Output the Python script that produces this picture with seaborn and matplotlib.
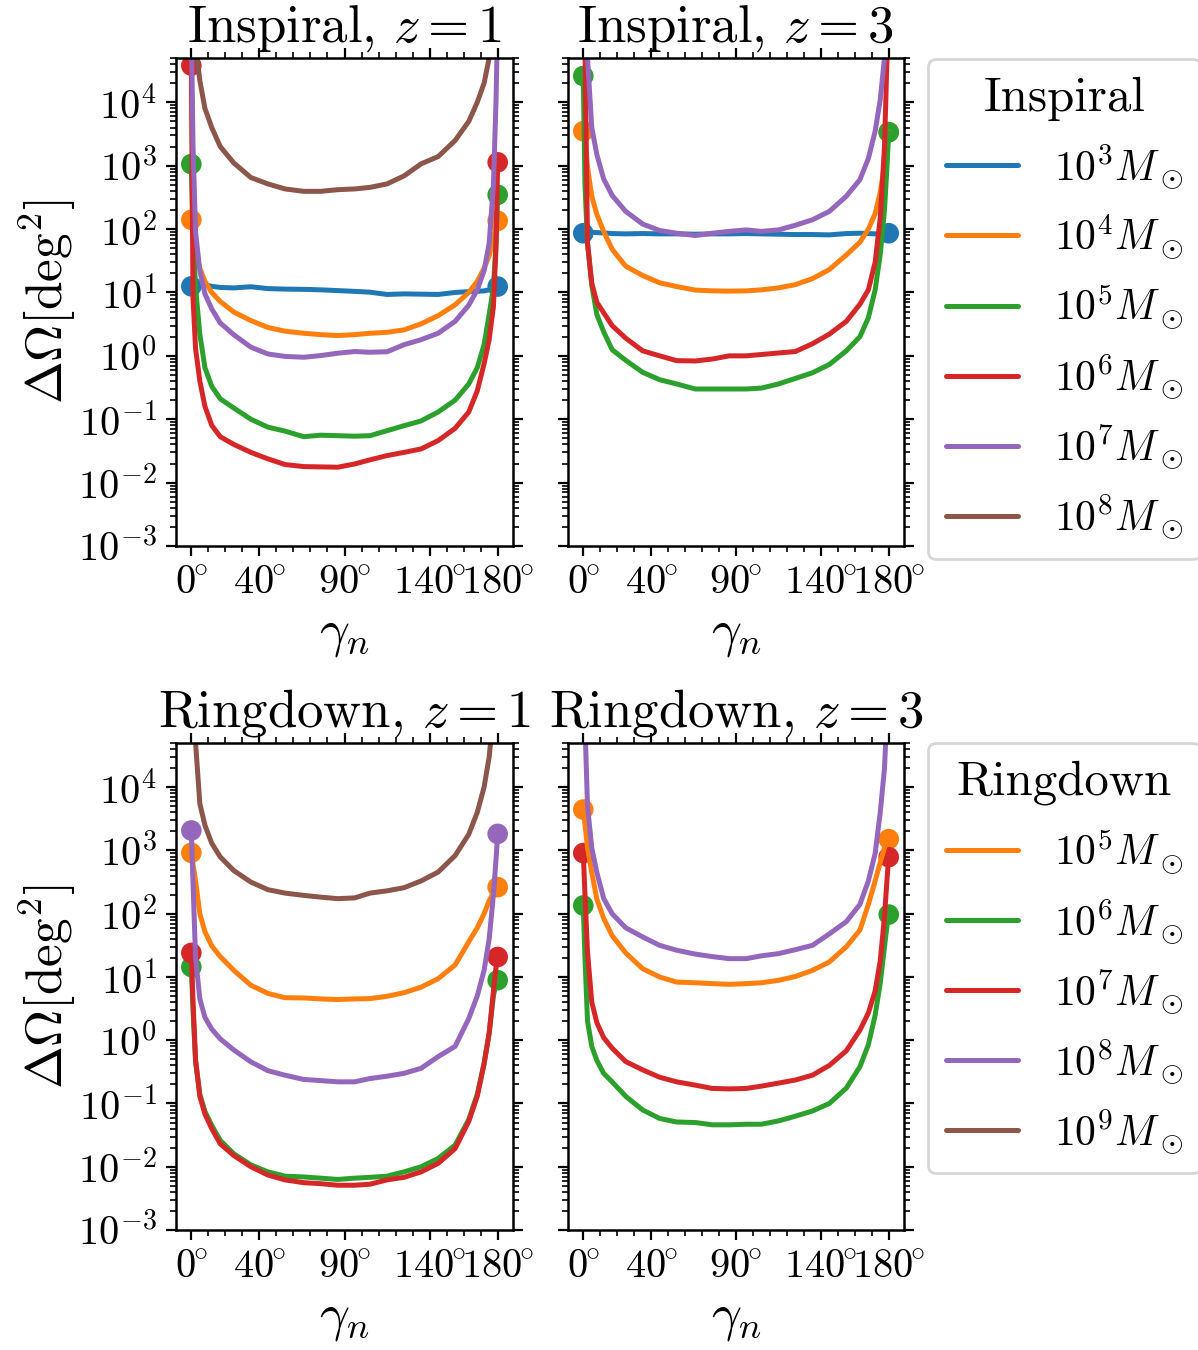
import numpy as np
import pandas as pd
import matplotlib
matplotlib.use("Agg")
import matplotlib.pyplot as plt
import seaborn as sns
from matplotlib.lines import Line2D
from matplotlib.ticker import LogLocator, MultipleLocator, NullFormatter

# ---------------------------------------------------------------------------
# Sky-localisation area versus the angle gamma_n, sampled on a common grid
# ---------------------------------------------------------------------------
gamma_deg = [0, 1, 2.5, 5, 8, 12, 17, 25, 35, 45, 55, 66, 76, 86, 96, 105,
             115, 125, 135, 145, 155, 163, 168, 172, 175, 177.5, 179, 180]

# Inspiral, z = 1
insp_z1_m1e3 = [12.5, 13.5, 13.8, 13.6, 13.2, 12.5, 12.0, 11.8, 12.3, 11.5, 11.3, 11.2, 11.0, 10.7,
                10.4, 10.1, 9.3, 9.5, 9.4, 9.3, 10.0, 10.3, 10.4, 10.6, 11.0, 11.7, 12.2, 12.4]
insp_z1_m1e4 = [140, 100, 45, 24, 15, 10, 7.2, 4.9, 3.6, 2.8, 2.45, 2.27, 2.16, 2.09,
                2.16, 2.27, 2.35, 2.57, 3.2, 4.3, 6.4, 10, 15, 24, 38, 70, 110, 135]
insp_z1_m1e5 = [1060, 80, 12, 2.2, 0.65, 0.33, 0.21, 0.15, 0.10, 0.075, 0.065, 0.053, 0.056, 0.055,
                0.054, 0.055, 0.066, 0.079, 0.094, 0.13, 0.2, 0.36, 0.65, 1.5, 4.5, 12, 60, 347]
insp_z1_m1e6 = [3.8e4, 8, 1.3, 0.4, 0.16, 0.08, 0.053, 0.040, 0.030, 0.0237, 0.0193, 0.0179, 0.0177, 0.0175,
                0.0197, 0.0229, 0.0267, 0.030, 0.034, 0.046, 0.072, 0.13, 0.28, 0.75, 1.8, 6, 50, 1130]
insp_z1_m1e7 = [2e5, 2000, 90, 22, 9.5, 5.5, 3.3, 2.15, 1.37, 1.07, 0.98, 0.95, 1.01, 1.1,
                1.17, 1.14, 1.16, 1.5, 1.8, 2.27, 3.5, 6.3, 11, 22, 60, 500, 1e4, 2e5]
insp_z1_m1e8 = [1e6, 5e5, 8e4, 2.2e4, 8000, 4000, 2000, 1100, 650, 516, 430, 394, 394, 418,
                430, 455, 516, 690, 1070, 1390, 2500, 5000, 1e4, 2e4, 5e4, 2e5, 5e5, 1e6]

# Inspiral, z = 3
insp_z3_m1e3 = [86, 88, 89, 89, 88, 87, 85, 84, 85, 84, 84, 83, 84, 84,
                85, 84, 83, 82, 82, 81, 85, 86, 85, 84, 83, 84, 85, 86]
insp_z3_m1e4 = [3500, 2800, 950, 330, 170, 92, 48, 26, 18.5, 14.2, 12.4, 10.9, 10.6, 10.5,
                10.6, 11.0, 11.8, 13.3, 16.5, 23, 39, 62, 100, 175, 380, 1000, 2300, 3400]
insp_z3_m1e5 = [2.6e4, 500, 60, 13, 4.5, 2.4, 1.25, 0.85, 0.55, 0.42, 0.36, 0.30, 0.30, 0.30,
                0.30, 0.31, 0.36, 0.44, 0.54, 0.73, 1.2, 2.0, 4.0, 11, 40, 200, 1000, 3360]
insp_z3_m1e6 = [3e5, 8e4, 60, 14, 7, 4.8, 3.0, 1.9, 1.2, 1.0, 0.84, 0.83, 0.89, 1.0,
                1.0, 1.05, 1.11, 1.17, 1.55, 2.2, 3.5, 6.5, 11, 30, 150, 2000, 5e4, 3e5]
insp_z3_m1e7 = [1e6, 3e5, 5e4, 4000, 1500, 620, 340, 190, 120, 95, 86, 79, 86, 92,
                97, 92, 97, 115, 140, 190, 330, 600, 1300, 3500, 1.1e4, 5e4, 3e5, 1e6]

# Ringdown, z = 1
ring_z1_m1e5 = [918, 600, 330, 100, 52, 31, 21, 12.7, 7.4, 5.5, 4.7, 4.66, 4.5, 4.4,
                4.5, 4.55, 4.95, 5.65, 6.9, 9.4, 15.5, 36, 60, 100, 160, 215, 245, 263]
ring_z1_m1e6 = [14.4, 3, 0.45, 0.14, 0.075, 0.045, 0.026, 0.016, 0.0107, 0.0083, 0.0071, 0.0069, 0.0066, 0.0063,
                0.0066, 0.0068, 0.0071, 0.0083, 0.010, 0.0135, 0.022, 0.056, 0.14, 0.43, 1.3, 5, 8, 8.9]
ring_z1_m1e7 = [24, 4, 0.5, 0.13, 0.068, 0.04, 0.023, 0.015, 0.010, 0.0074, 0.0062, 0.0056, 0.0054, 0.0051,
                0.0051, 0.0053, 0.0062, 0.0068, 0.0083, 0.0113, 0.0194, 0.052, 0.13, 0.42, 1.3, 6, 14, 20.7]
ring_z1_m1e8 = [2070, 300, 20, 4.5, 2.3, 1.5, 1.05, 0.70, 0.455, 0.33, 0.28, 0.24, 0.23, 0.22,
                0.22, 0.248, 0.27, 0.30, 0.36, 0.55, 0.8, 2.2, 5, 12.7, 40, 200, 700, 1830]
ring_z1_m1e9 = [1e6, 5e5, 5e4, 5500, 2500, 1300, 790, 480, 316, 240, 212, 195, 183, 173,
                178, 212, 230, 258, 330, 455, 830, 1800, 4000, 1e4, 3e4, 1.5e5, 5e5, 1e6]

# Ringdown, z = 3
ring_z3_m1e5 = [4440, 2600, 1100, 450, 170, 85, 45, 24, 13.5, 10, 8.3, 8.1, 7.85, 7.65,
                7.85, 8.1, 8.85, 10.2, 12.7, 17.3, 30, 55, 140, 330, 650, 1100, 1350, 1510]
ring_z3_m1e6 = [135, 20, 2.0, 0.8, 0.48, 0.3, 0.22, 0.13, 0.079, 0.058, 0.051, 0.05, 0.046, 0.046,
                0.047, 0.047, 0.053, 0.063, 0.076, 0.10, 0.175, 0.38, 0.85, 2.5, 8, 30, 65, 97]
ring_z3_m1e7 = [910, 200, 25, 4, 1.9, 1.1, 0.75, 0.46, 0.34, 0.26, 0.22, 0.195, 0.173, 0.17,
                0.173, 0.188, 0.21, 0.235, 0.28, 0.40, 0.68, 1.44, 2.7, 6, 18, 90, 350, 785]
ring_z3_m1e8 = [1e6, 1e5, 5000, 1100, 450, 175, 100, 60, 43, 31.6, 26.5, 23, 21, 19.5,
                19.5, 21.6, 23.4, 27, 31.6, 48, 75, 140, 330, 900, 4000, 2e4, 1.5e5, 1e6]

gamma_ticks = [0, 40, 90, 140, 180]
gamma_ticklabels = [r"$0^{\!\!\circ}$", r"$40^{\!\!\circ}$", r"$90^{\!\!\circ}$",
                    r"$140^{\!\!\circ}$", r"$180^{\!\!\circ}$"]

inspiral_exps = [3, 4, 5, 6, 7, 8]
ringdown_exps = [5, 6, 7, 8, 9]

# ---------------------------------------------------------------------------
# Style
# ---------------------------------------------------------------------------
sns.set_style("ticks")
plt.rcParams.update({
    "font.family": "serif",
    "font.serif": ["cmr10", "DejaVu Serif"],
    "mathtext.fontset": "cm",
    "axes.formatter.use_mathtext": True,
    "axes.unicode_minus": False,
    "axes.edgecolor": "black",
    "axes.linewidth": 0.9,
    "xtick.color": "black",
    "ytick.color": "black",
    "text.color": "black",
    "axes.labelcolor": "black",
    "xtick.direction": "out",
    "ytick.direction": "out",
    "xtick.major.size": 3.5,
    "ytick.major.size": 3.5,
    "xtick.minor.size": 2.0,
    "ytick.minor.size": 2.0,
    "xtick.major.width": 0.8,
    "ytick.major.width": 0.8,
    "xtick.minor.width": 0.6,
    "ytick.minor.width": 0.6,
})

tab10 = sns.color_palette("tab10")


def mass_label(e):
    return rf"$10^{e}M_\odot$"


insp_colors = {mass_label(e): tab10[i] for i, e in enumerate(inspiral_exps)}
ring_colors = {mass_label(e): tab10[i + 1] for i, e in enumerate(ringdown_exps)}

panels = [
    ("Inspiral, $z = 1$", insp_colors,
     [(3, insp_z1_m1e3), (4, insp_z1_m1e4), (5, insp_z1_m1e5),
      (6, insp_z1_m1e6), (7, insp_z1_m1e7), (8, insp_z1_m1e8)]),
    ("Inspiral, $z = 3$", insp_colors,
     [(3, insp_z3_m1e3), (4, insp_z3_m1e4), (5, insp_z3_m1e5),
      (6, insp_z3_m1e6), (7, insp_z3_m1e7)]),
    ("Ringdown, $z = 1$", ring_colors,
     [(5, ring_z1_m1e5), (6, ring_z1_m1e6), (7, ring_z1_m1e7),
      (8, ring_z1_m1e8), (9, ring_z1_m1e9)]),
    ("Ringdown, $z = 3$", ring_colors,
     [(5, ring_z3_m1e5), (6, ring_z3_m1e6), (7, ring_z3_m1e7),
      (8, ring_z3_m1e8)]),
]

W, H = 1198, 1350
fig = plt.figure(figsize=(W / 200, H / 200), dpi=200)

# axes rectangles in figure fractions
col_left = [176 / W, 568 / W]
col_width = [337 / W, 336 / W]
row_bottom = [1 - 546 / H, 1 - 1230 / H]
row_height = [488 / H, 487 / H]

LW = 1.8
for k, (title, colors, series) in enumerate(panels):
    r, c = divmod(k, 2)
    ax = fig.add_axes([col_left[c], row_bottom[r], col_width[c], row_height[r]])
    ax.set_yscale("log")

    frames = [pd.DataFrame({"gamma": gamma_deg, "dOmega": vals, "mass": mass_label(e)})
              for e, vals in series]
    df = pd.concat(frames, ignore_index=True)

    sns.lineplot(data=df, x="gamma", y="dOmega", hue="mass", palette=colors,
                 estimator=None, sort=False, legend=False, linewidth=LW, ax=ax)
    ends = df[df["gamma"].isin([gamma_deg[0], gamma_deg[-1]])]
    sns.scatterplot(data=ends, x="gamma", y="dOmega", hue="mass", palette=colors,
                    s=55, linewidth=0, legend=False, zorder=1, ax=ax)

    ax.set_xlim(-9, 189)
    ax.set_ylim(1e-3, 5e4)
    ax.set_xticks(gamma_ticks, gamma_ticklabels)
    ax.xaxis.set_minor_locator(MultipleLocator(10))
    ax.yaxis.set_major_locator(LogLocator(base=10, numticks=20))
    ax.yaxis.set_minor_locator(LogLocator(base=10, subs=np.arange(2, 10), numticks=20))
    ax.yaxis.set_minor_formatter(NullFormatter())
    ax.tick_params(which="both", top=True, right=True)
    ax.tick_params(axis="both", which="major", labelsize=14.5)

    ax.set_title(title, fontsize=19)
    ax.set_xlabel(r"$\gamma_n$", fontsize=19, labelpad=4)
    if c == 0:
        ax.set_ylabel(r"$\Delta\Omega[\mathrm{deg}^2]$", fontsize=18.5, labelpad=0)
    else:
        ax.set_ylabel("")
        ax.tick_params(labelleft=False)


def legend_for(exps, colors, title, top_px):
    handles = [Line2D([], [], color=colors[mass_label(e)], lw=LW) for e in exps]
    labels = [mass_label(e) for e in exps]
    fig.legend(handles, labels, title=title, loc="upper left",
               bbox_to_anchor=(928 / W, 1 - top_px / H), borderaxespad=0,
               fontsize=15, title_fontsize=17.6, handlelength=1.75,
               handletextpad=0.85, labelspacing=0.52, borderpad=0.42)


legend_for(inspiral_exps, insp_colors, "Inspiral", 59)
legend_for(ringdown_exps, ring_colors, "Ringdown", 743)

fig.savefig("out.png", dpi=200)
